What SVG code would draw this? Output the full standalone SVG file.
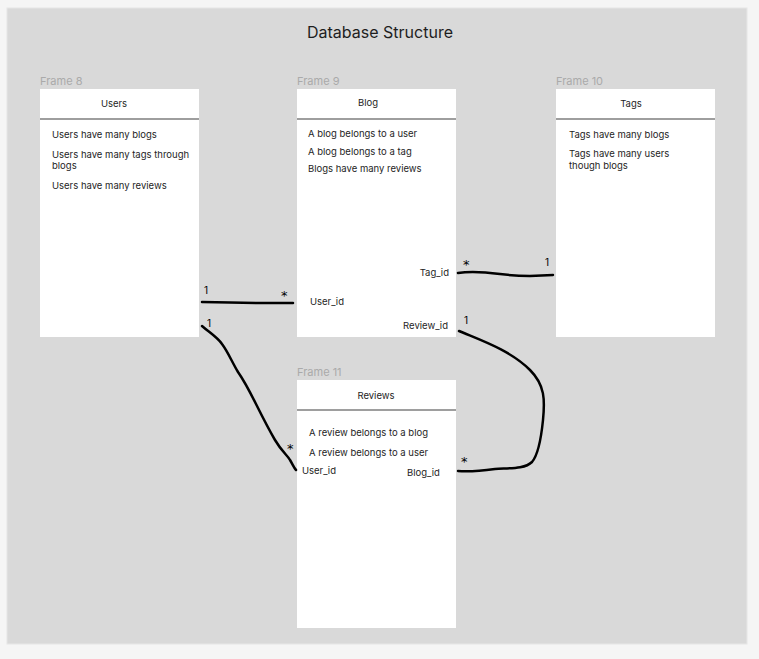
<svg xmlns="http://www.w3.org/2000/svg" width="759" height="659" viewBox="0 0 759 659">
<style>
.t{font-family:Inter,"Liberation Sans",sans-serif;font-size:9.5px;fill:#1e1e1e}
.h{font-family:Inter,"Liberation Sans",sans-serif;font-size:9.5px;fill:#1e1e1e;text-anchor:middle}
.f{font-family:Inter,"Liberation Sans",sans-serif;font-size:11px;fill:#aaaaaa}
.box{fill:#ffffff}
.div{stroke:#9e9e9e;stroke-width:2}
.c{fill:none;stroke:#000;stroke-width:2.5;stroke-linecap:round;stroke-linejoin:round}
.m{font-family:Inter,"Liberation Sans",sans-serif;font-size:10px;fill:#000}
.s{font-family:"DejaVu Sans",sans-serif;font-size:13px;fill:#000}
</style>
<rect x="0" y="0" width="759" height="659" fill="#f5f5f5"/>
<rect x="7" y="8" width="740" height="636" fill="#d9d9d9" stroke="#e6e6e6" stroke-width="1"/>
<text x="380" y="38" font-family="Inter,'Liberation Sans',sans-serif" font-size="16" fill="#1e1e1e" text-anchor="middle">Database Structure</text>

<g id="users">
<text class="f" x="40" y="85">Frame 8</text>
<rect class="box" x="40" y="89" width="159" height="248"/>
<line class="div" x1="40" y1="119" x2="199" y2="119"/>
<text class="h" x="114" y="107">Users</text>
<text class="t" x="52" y="138">Users have many blogs</text>
<text class="t" x="52" y="158">Users have many tags through</text>
<text class="t" x="52" y="169">blogs</text>
<text class="t" x="52" y="189">Users have many reviews</text>
</g>

<g id="blog">
<text class="f" x="297" y="85">Frame 9</text>
<rect class="box" x="297" y="89" width="159" height="248"/>
<line class="div" x1="297" y1="119" x2="456" y2="119"/>
<text class="h" x="368" y="106">Blog</text>
<text class="t" x="308" y="137">A blog belongs to a user</text>
<text class="t" x="308" y="155">A blog belongs to a tag</text>
<text class="t" x="308" y="172">Blogs have many reviews</text>
<text class="t" x="449" y="276" text-anchor="end">Tag_id</text>
<text class="t" x="310" y="305">User_id</text>
<text class="t" x="448" y="329" text-anchor="end">Review_id</text>
</g>

<g id="tags">
<text class="f" x="556" y="85">Frame 10</text>
<rect class="box" x="556" y="89" width="159" height="248"/>
<line class="div" x1="556" y1="119" x2="715" y2="119"/>
<text class="h" x="631" y="107">Tags</text>
<text class="t" x="569" y="138">Tags have many blogs</text>
<text class="t" x="569" y="157">Tags have many users</text>
<text class="t" x="569" y="169">though blogs</text>
</g>

<g id="reviews">
<text class="f" x="297" y="376">Frame 11</text>
<rect class="box" x="297" y="380" width="159" height="248"/>
<line class="div" x1="297" y1="410" x2="456" y2="410" stroke="#444"/>
<text class="h" x="376" y="399">Reviews</text>
<text class="t" x="309" y="436">A review belongs to a blog</text>
<text class="t" x="309" y="456">A review belongs to a user</text>
<text class="t" x="302" y="474">User_id</text>
<text class="t" x="407" y="476">Blog_id</text>
</g>

<g id="connectors">
<path class="c" d="M202,302 L230,302.5 L260,303 L293,303"/>
<path class="c" d="M458,273 C470,271 485,272 500,274 C515,276 520,276 530,276 L553,275"/>
<path class="c" d="M202,326 C210,333 217,337 222,344 C228,352 232,362 238,372 C245,382 250,392 256,404 C262,416 268,428 275,440 C282,452 288,456 290,460 C293,465 294,468 296,470"/>
<path class="c" d="M459,331 C480,340 510,350 530,370 C545,385 545,400 543,420 C541,440 538,455 532,462 C525,469 510,468 495,469 C480,471 470,472 458,471"/>
<text class="m" x="204" y="294">1</text>
<text class="s" x="281" y="300">*</text>
<text class="s" x="463" y="269">*</text>
<text class="m" x="545" y="266">1</text>
<text class="m" x="207" y="327">1</text>
<text class="s" x="287" y="453">*</text>
<text class="m" x="464" y="324">1</text>
<text class="s" x="461" y="466">*</text>
</g>
</svg>
